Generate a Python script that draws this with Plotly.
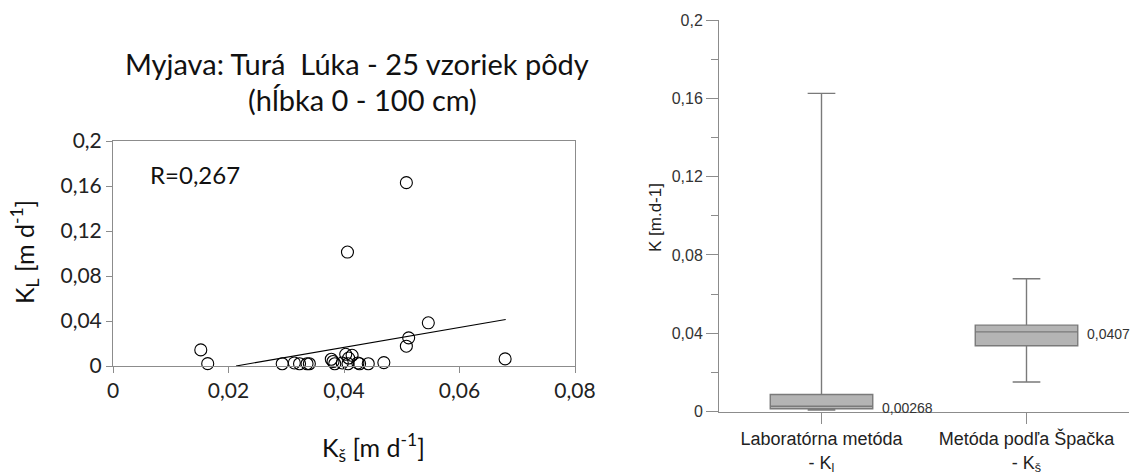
import plotly.graph_objects as go

# ---- data: scatter (left panel) ----
ks_vals = [0.0152, 0.0164, 0.0293, 0.0314, 0.0323, 0.0336, 0.0340, 0.0378, 0.0381,
           0.0384, 0.0397, 0.0403, 0.0407, 0.0408, 0.0414, 0.0424, 0.0427, 0.0442,
           0.0469, 0.0508, 0.0406, 0.0508, 0.0512, 0.0546, 0.0679]
kl_vals = [0.0143, 0.0021, 0.0020, 0.0027, 0.0020, 0.0020, 0.0020, 0.0060, 0.0040,
           0.0020, 0.0027, 0.0104, 0.0020, 0.0071, 0.0095, 0.0027, 0.0020, 0.0020,
           0.0030, 0.1630, 0.1013, 0.0176, 0.0250, 0.0384, 0.0063]
trend_x = [0.0213, 0.0680]
trend_y = [0.0, 0.0414]
r_label = "R=0,267"

left_xticks = [0, 0.02, 0.04, 0.06, 0.08]
left_xtext = ["0", "0,02", "0,04", "0,06", "0,08"]
left_yticks = [0, 0.04, 0.08, 0.12, 0.16, 0.2]
left_ytext = ["0", "0,04", "0,08", "0,12", "0,16", "0,2"]

# ---- data: box plot (right panel) ----
box_cats = ["Laboratórna metóda<br>- K<sub>l</sub>", "Metóda podľa Špačka<br>- K<sub>š</sub>"]
box_lower = [0.0008, 0.0151]
box_q1 = [0.0014, 0.0336]
box_median = [0.00268, 0.0407]
box_q3 = [0.0087, 0.0441]
box_upper = [0.1625, 0.0678]
median_labels = ["0,00268", "0,0407"]

right_yticks = [0, 0.04, 0.08, 0.12, 0.16, 0.2]
right_ytext = ["0", "0,04", "0,08", "0,12", "0,16", "0,2"]

W, H = 1139, 473
LF = "Lato, Carlito, Calibri, sans-serif"
AF = "Liberation Sans, Arial, sans-serif"
GRAY = "#8c8c8c"

fig = go.Figure()

fig.add_trace(go.Scatter(
    x=ks_vals, y=kl_vals, mode="markers",
    marker=dict(symbol="circle-open", size=12, color="black", line=dict(width=1.1)),
    xaxis="x", yaxis="y", showlegend=False, cliponaxis=False))
fig.add_trace(go.Scatter(
    x=trend_x, y=trend_y, mode="lines", line=dict(color="black", width=1.1),
    xaxis="x", yaxis="y", showlegend=False))

fig.add_trace(go.Box(
    x=box_cats, q1=box_q1, median=box_median, q3=box_q3,
    lowerfence=box_lower, upperfence=box_upper,
    boxpoints=False, whiskerwidth=0.27,
    fillcolor="#b4b4b4", line=dict(color="#7a7a7a", width=1.4),
    xaxis="x2", yaxis="y2", showlegend=False))

lx0, lx1 = 113 / W, 575 / W
ly0, ly1 = 1 - 366 / H, 1 - 141 / H
rx0, rx1 = 719 / W, 1129 / W
ry0, ry1 = 1 - 411.5 / H, 1 - 20 / H

fig.update_layout(
    template="none",
    width=W, height=H, margin=dict(l=0, r=0, t=0, b=0, autoexpand=False),
    paper_bgcolor="white", plot_bgcolor="white",
    boxgap=0.5, boxgroupgap=0,
    xaxis=dict(domain=[lx0, lx1], range=[0, 0.08], tickvals=left_xticks, ticktext=left_xtext,
               showgrid=False, zeroline=False, showline=True, linecolor=GRAY, linewidth=1,
               mirror=True, ticks="outside", ticklen=6, tickcolor=GRAY, automargin=False,
               tickfont=dict(family=LF, size=21, color="#222"), anchor="y"),
    yaxis=dict(domain=[ly0, ly1], range=[0, 0.2], tickvals=left_yticks, ticktext=left_ytext,
               showgrid=False, zeroline=False, showline=True, linecolor=GRAY, linewidth=1,
               mirror=True, ticks="outside", ticklen=6, tickcolor=GRAY, automargin=False,
               tickfont=dict(family=LF, size=21, color="#222"), anchor="x"),
    xaxis2=dict(domain=[rx0, rx1], range=[-0.5, 1.5], type="category",
                showgrid=False, zeroline=False, showline=True, linecolor=GRAY, linewidth=1,
                ticks="outside", ticklen=11, tickcolor=GRAY, automargin=False,
                tickfont=dict(family=AF, size=18, color="#222"), anchor="y2"),
    yaxis2=dict(domain=[ry0, ry1], range=[0, 0.2], tickvals=right_yticks, ticktext=right_ytext,
                showgrid=False, zeroline=False, showline=True, linecolor=GRAY, linewidth=1,
                ticks="outside", ticklen=12, tickcolor=GRAY, automargin=False,
                minor=dict(dtick=0.02, ticks="outside", ticklen=7, tickcolor=GRAY),
                tickfont=dict(family=AF, size=16, color="#333"), anchor="x2"),
)

ann = []
ann.append(dict(text="Myjava: Turá  Lúka - 25 vzoriek pôdy", x=357 / W, y=1 - 64 / H,
                xref="paper", yref="paper", showarrow=False, xanchor="center", yanchor="middle",
                font=dict(family=LF, size=29, color="#111")))
ann.append(dict(text="(hĺbka 0 - 100 cm)", x=362 / W, y=1 - 100 / H,
                xref="paper", yref="paper", showarrow=False, xanchor="center", yanchor="middle",
                font=dict(family=LF, size=29, color="#111")))
ann.append(dict(text=r_label, x=0.006, y=0.17, xref="x", yref="y", showarrow=False,
                xanchor="left", yanchor="middle", font=dict(family=LF, size=24, color="#111")))
ann.append(dict(text="K<sub>L</sub> [m d<sup>-1</sup>]", x=24 / W, y=1 - 252 / H,
                xref="paper", yref="paper", showarrow=False, textangle=-90,
                xanchor="center", yanchor="middle", font=dict(family=LF, size=25, color="#111")))
ann.append(dict(text="K<sub>š</sub> [m d<sup>-1</sup>]", x=373 / W, y=1 - 447 / H,
                xref="paper", yref="paper", showarrow=False,
                xanchor="center", yanchor="middle", font=dict(family=LF, size=25, color="#111")))
ann.append(dict(text="K [m.d-1]", x=655 / W, y=1 - 218 / H,
                xref="paper", yref="paper", showarrow=False, textangle=-90,
                xanchor="center", yanchor="middle", font=dict(family=AF, size=17, color="#222")))
for cat, med, lab in zip(box_cats, box_median, median_labels):
    ann.append(dict(text=lab, x=cat, y=med, xref="x2", yref="y2", showarrow=False,
                    xanchor="left", yanchor="middle", xshift=58, yshift=-2,
                    font=dict(family=AF, size=14, color="#333")))
fig.update_layout(annotations=ann)

fig.write_html("out.html")
